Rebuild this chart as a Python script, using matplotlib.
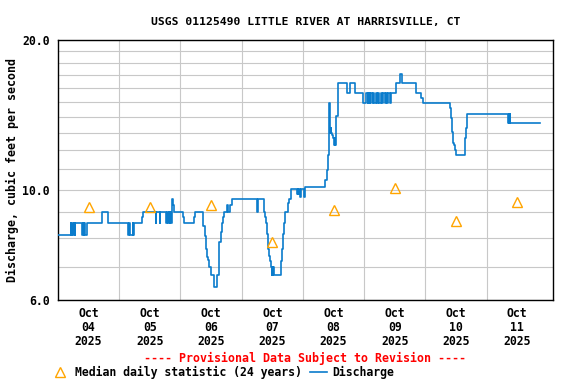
import matplotlib
matplotlib.use("Agg")
import matplotlib.pyplot as plt
from matplotlib.lines import Line2D
from matplotlib.ticker import FixedLocator, NullFormatter

# discharge, step points: hours since 2025-10-04 00:00, cfs
hours = [0, 4.9, 5.2, 5.6, 5.9, 6.2, 6.5, 6.8, 9.4, 9.7, 10.0, 10.3, 10.6, 11.2, 17.2, 19.7,
         27.4, 28.0, 28.3, 29.2, 29.5, 29.9, 32.8, 33.4, 38.3, 38.6, 39.8, 40.1, 42.5, 42.8,
         43.1, 43.4, 43.7, 44.0, 44.2, 44.5, 44.8, 45.0, 45.3,
         48.9, 49.4, 53.3, 53.6, 57.0, 57.6, 57.9, 58.3, 58.7, 59.2, 59.9, 61.2, 62.4, 63.2,
         63.8, 64.2, 64.6, 64.9, 66.1, 66.5, 67.4, 68.1,
         77.9, 78.5, 80.6, 81.1, 81.5, 81.9, 82.2, 82.4, 82.8, 83.2, 83.5, 83.8, 84.0, 84.2,
         84.4, 84.6, 87.4, 87.8, 88.3, 88.7, 89.1, 90.0, 90.4, 91.3, 93.8, 94.0, 94.2, 94.5,
         95.0, 95.3, 96.4, 96.8,
         104.7, 105.3, 105.7, 106.2, 106.3, 106.45, 106.6, 106.8, 107.0, 107.3, 107.9, 108.2,
         108.5, 108.7, 108.9, 109.0, 109.6, 109.9, 113.2, 114.4, 116.4, 119.7,
         120.6, 121.3, 121.6, 122.1, 122.4, 123.2, 123.6, 124.0, 124.5, 125.0, 125.4, 125.8,
         126.6, 127.0, 127.3, 128.2, 128.5, 128.9, 129.3, 130.0, 130.7, 132.5, 134.1, 135.0,
         140.2, 142.3, 143.0,
         153.5, 153.9, 154.2, 154.6, 155.0, 155.2, 155.5, 155.9, 159.4, 159.8, 160.2, 160.4,
         176.3, 176.6, 176.8, 177.1, 177.3, 188.9]
cfs = [8.11, 8.56, 8.11, 8.56, 8.11, 8.56, 8.11, 8.56, 8.11, 8.56, 8.11, 8.56, 8.11, 8.56, 9.03, 8.56,
       8.11, 8.56, 8.11, 8.56, 8.11, 8.56, 8.81, 9.03, 8.56, 9.03, 8.56, 9.03, 8.56, 9.03,
       8.56, 9.03, 8.56, 9.03, 8.56, 9.03, 9.58, 9.30, 9.03,
       8.81, 8.56, 8.81, 9.03, 8.45, 8.06, 7.60, 7.33, 7.22, 7.00, 6.75, 6.37, 6.75, 7.86,
       8.23, 8.56, 8.81, 9.03, 9.30, 9.03, 9.30, 9.58,
       9.03, 9.58, 9.03, 8.81, 8.56, 8.15, 7.90, 7.60, 7.35, 7.20, 7.00, 6.75, 7.00, 6.75,
       7.00, 6.75, 7.20, 7.60, 8.15, 8.56, 9.03, 9.40, 9.58, 10.02, 9.80, 10.02, 9.80, 10.02,
       9.67, 10.02, 9.67, 10.12,
       10.45, 10.95, 11.74, 12.30, 14.92, 14.24, 12.99, 13.30, 12.99, 12.90, 12.69, 12.30,
       12.69, 12.30, 12.69, 14.07, 15.00, 16.37, 15.62, 16.37, 15.62, 14.92,
       15.62, 14.92, 15.62, 14.92, 15.62, 14.92, 15.62, 14.92, 15.62, 14.92, 15.62, 14.92,
       15.62, 14.92, 15.62, 14.92, 15.62, 14.92, 15.62, 14.92, 15.62, 16.37, 17.06, 16.37,
       15.62, 15.26, 14.92,
       14.58, 14.24, 13.92, 13.08, 12.39, 12.30, 12.02, 11.74, 12.69, 13.29, 13.60, 14.20,
       13.60, 14.20, 13.60, 14.20, 13.60, 13.60]

# median daily statistic at noon of each day
median_hours = [12, 36, 60, 84, 108, 132, 156, 180]
median_cfs = [9.23, 9.21, 9.32, 7.85, 9.10, 10.07, 8.65, 9.43]

day_labels = ["Oct\n04\n2025", "Oct\n05\n2025", "Oct\n06\n2025", "Oct\n07\n2025",
              "Oct\n08\n2025", "Oct\n09\n2025", "Oct\n10\n2025", "Oct\n11\n2025"]

blue = "#0a7ccc"
orange = "#ffa500"
mono = "DejaVu Sans Mono"

fig = plt.figure(figsize=(5.76, 3.84), dpi=100)
ax = fig.add_axes([58 / 576, 84 / 384, 495 / 576, 260 / 384])

ax.step(hours, cfs, where="post", color=blue, lw=1.2, zorder=3)
ax.plot(median_hours, median_cfs, ls="none", marker="^", ms=7.5, mfc="none",
        mec=orange, mew=1.0, zorder=4)

ax.set_yscale("log")
ax.set_ylim(6, 20)
ax.set_xlim(0, 194)

ax.yaxis.set_major_locator(FixedLocator([6, 10, 20]))
ax.set_yticklabels(["6.0", "10.0", "20.0"])
ax.yaxis.set_minor_locator(FixedLocator([7, 8, 9, 11, 12, 13, 14, 15, 16, 17, 18, 19]))
ax.yaxis.set_minor_formatter(NullFormatter())

ax.set_xticks(median_hours)
ax.set_xticklabels(day_labels, linespacing=1.12)
ax.xaxis.set_minor_locator(FixedLocator([24 * k for k in range(1, 8)]))

# light grey grid: every integer cfs, every midnight
ax.grid(True, which="both", axis="y", color="#c8c8c8", lw=0.8)
ax.grid(True, which="minor", axis="x", color="#c8c8c8", lw=0.8)
ax.grid(False, which="major", axis="x")
ax.set_axisbelow(True)

ax.tick_params(which="both", length=0)
ax.tick_params(axis="y", pad=6)
ax.tick_params(axis="x", pad=5)
for lab in ax.get_xticklabels() + ax.get_yticklabels():
    lab.set_fontfamily(mono)
    lab.set_fontweight("bold")
    lab.set_fontsize(8.3)

for sp in ax.spines.values():
    sp.set_color("black")
    sp.set_linewidth(1.0)

ax.set_ylabel("Discharge, cubic feet per second", fontfamily=mono,
              fontweight="bold", fontsize=8.4, labelpad=2)
ax.set_title("USGS 01125490 LITTLE RIVER AT HARRISVILLE, CT", fontfamily=mono,
             fontweight="bold", fontsize=8.2, pad=11)

fig.text(305 / 576, 1 - 358 / 384, "---- Provisional Data Subject to Revision ----",
         color="red", fontfamily=mono, fontweight="bold", fontsize=8.4,
         ha="center", va="center")

handles = [Line2D([], [], ls="none", marker="^", ms=7.5, mfc="none", mec=orange, mew=1.0),
           Line2D([], [], color=blue, lw=1.2)]
fig.legend(handles, ["Median daily statistic (24 years)", "Discharge"], ncol=2,
           loc="center left", bbox_to_anchor=(47 / 576, 12 / 384), frameon=False,
           prop={"family": mono, "weight": "bold", "size": 8.3},
           handlelength=1.5, handletextpad=0.5, columnspacing=0.7, borderaxespad=0)

fig.savefig("out.png", dpi=100)
